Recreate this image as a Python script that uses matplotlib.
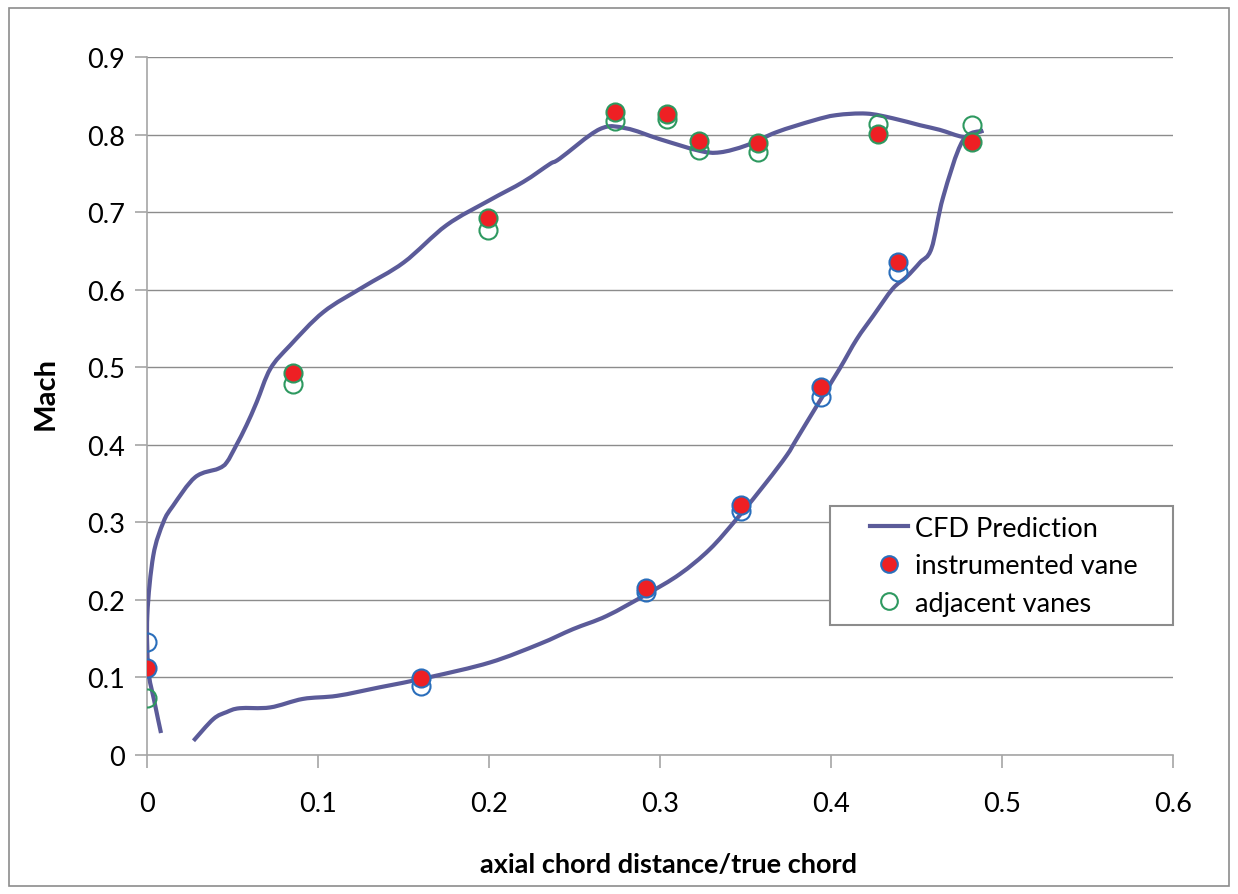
import matplotlib
matplotlib.use("Agg")
import matplotlib.pyplot as plt
from matplotlib.patches import Rectangle, PathPatch
from matplotlib.path import Path
from matplotlib.lines import Line2D

plt.rcParams['font.family'] = ['Lato', 'DejaVu Sans']

# CFD prediction, suction side (leading edge -> trailing edge)
ss_x = [0.008, 0.004, 0.0006, 0.0, 0.0035, 0.0094, 0.015, 0.028, 0.0415, 0.0464, 0.052, 0.058,
        0.064, 0.072, 0.0835, 0.103, 0.126, 0.150, 0.175, 0.200, 0.220, 0.2355, 0.2413,
        0.2647, 0.280, 0.2998, 0.323, 0.335, 0.3505, 0.368, 0.3895, 0.403, 0.4207, 0.436,
        0.452, 0.4636, 0.477, 0.483, 0.489]
ss_y = [0.028, 0.07, 0.11, 0.18, 0.257, 0.30, 0.321, 0.358, 0.369, 0.377, 0.399, 0.425,
        0.455, 0.498, 0.528, 0.571, 0.603, 0.635, 0.683, 0.715, 0.739, 0.762, 0.769,
        0.807, 0.808, 0.794, 0.779, 0.777, 0.786, 0.803, 0.818, 0.825, 0.827, 0.821,
        0.812, 0.806, 0.797, 0.801, 0.805]
# CFD prediction, pressure side (trailing edge -> leading edge)
ps_x = [0.489, 0.477, 0.4655, 0.4587, 0.452, 0.444, 0.436, 0.4246, 0.415, 0.405, 0.393, 0.3798,
        0.374, 0.362, 0.3447, 0.329, 0.3115, 0.292, 0.2687, 0.249, 0.2296, 0.2004, 0.165,
        0.136, 0.111, 0.091, 0.0718, 0.054, 0.0464, 0.0386, 0.027]
ps_y = [0.805, 0.792, 0.719, 0.653, 0.635, 0.616, 0.601, 0.566, 0.536, 0.498, 0.455, 0.407,
        0.386, 0.351, 0.304, 0.265, 0.233, 0.207, 0.179, 0.162, 0.143, 0.119, 0.100,
        0.087, 0.076, 0.072, 0.061, 0.060, 0.055, 0.046, 0.018]

# instrumented vane, suction side / pressure side
inst_ss_x = [0.0855, 0.1994, 0.2735, 0.304, 0.3226, 0.3573, 0.4275, 0.4825]
inst_ss_y = [0.493, 0.692, 0.829, 0.827, 0.792, 0.789, 0.801, 0.790]
inst_ps_x = [0.0, 0.160, 0.292, 0.3475, 0.394, 0.439]
inst_ps_y = [0.112, 0.0985, 0.215, 0.322, 0.474, 0.635]

# adjacent vanes, suction side / pressure side
adj_ss_x = [0.0, 0.0855, 0.1994, 0.2735, 0.304, 0.3226, 0.3573, 0.4275, 0.4825]
adj_ss_y = [0.073, 0.478, 0.677, 0.818, 0.820, 0.780, 0.777, 0.814, 0.812]
adj_ps_x = [0.0, 0.160, 0.292, 0.3475, 0.394, 0.439]
adj_ps_y = [0.145, 0.089, 0.210, 0.315, 0.462, 0.623]

LINE = '#5B5B99'
RED = '#EE2024'
BLUE = '#2A6EBB'
GREEN = '#2E9960'
GRID = '#8C8C8C'
FS = 19.5


def smooth_path(xs, ys):
    """Catmull-Rom smoothing expressed as cubic Bezier path (like Excel smoothed lines)."""
    pts = list(zip(xs, ys))
    n = len(pts)
    verts = [pts[0]]
    codes = [Path.MOVETO]
    for i in range(n - 1):
        p0 = pts[i - 1] if i > 0 else pts[i]
        p1 = pts[i]
        p2 = pts[i + 1]
        p3 = pts[i + 2] if i + 2 < n else pts[i + 1]
        c1 = (p1[0] + (p2[0] - p0[0]) / 6.0, p1[1] + (p2[1] - p0[1]) / 6.0)
        c2 = (p2[0] - (p3[0] - p1[0]) / 6.0, p2[1] - (p3[1] - p1[1]) / 6.0)
        verts += [c1, c2, p2]
        codes += [Path.CURVE4] * 3
    return Path(verts, codes)


fig = plt.figure(figsize=(12.38, 8.95), dpi=100)
ax = fig.add_axes([0.1190, 0.1556, 0.8285, 0.7796])

fig.patches.append(Rectangle((9/1238, 1 - 887/895), (1229-9)/1238, (887-9)/895,
                             transform=fig.transFigure, fill=False, edgecolor='#8C8C8C', lw=1.2))

ax.set_xlim(0, 0.6)
ax.set_ylim(0, 0.9)
ax.set_xticks([0, 0.1, 0.2, 0.3, 0.4, 0.5, 0.6])
ax.set_xticklabels(['0', '0.1', '0.2', '0.3', '0.4', '0.5', '0.6'])
ax.set_yticks([0, 0.1, 0.2, 0.3, 0.4, 0.5, 0.6, 0.7, 0.8, 0.9])
ax.set_yticklabels(['0', '0.1', '0.2', '0.3', '0.4', '0.5', '0.6', '0.7', '0.8', '0.9'])
ax.yaxis.grid(True, color=GRID, lw=1.0)
ax.set_axisbelow(True)
for s in ['top', 'right']:
    ax.spines[s].set_visible(False)
for s in ['left', 'bottom']:
    ax.spines[s].set_color('#A6A6A6')
    ax.spines[s].set_linewidth(1.2)
ax.tick_params(axis='both', length=9, width=1.2, color='#A6A6A6', labelsize=FS)
ax.tick_params(axis='y', pad=7)
ax.tick_params(axis='x', pad=17)

for xs, ys in [(ss_x, ss_y), (ps_x, ps_y)]:
    ax.add_patch(PathPatch(smooth_path(xs, ys), facecolor='none', edgecolor=LINE, lw=3,
                           capstyle='butt', joinstyle='round', zorder=3))

ms = 13
ax.plot(adj_ps_x, adj_ps_y, 'o', ms=ms, mfc='none', mec=BLUE, mew=1.5, zorder=4)
ax.plot(adj_ss_x, adj_ss_y, 'o', ms=ms, mfc='none', mec=GREEN, mew=1.5, zorder=4)
ax.plot(inst_ps_x, inst_ps_y, 'o', ms=ms, mfc=RED, mec=BLUE, mew=1.5, zorder=5)
ax.plot(inst_ss_x, inst_ss_y, 'o', ms=ms, mfc=RED, mec=GREEN, mew=1.5, zorder=5)

fig.text(668/1238, 1 - 873/895, 'axial chord distance/true chord', fontsize=FS,
         fontweight='bold', ha='center', va='baseline')
fig.text(46/1238, 1 - 393/895, 'Mach', fontsize=21, fontweight='bold', rotation=90,
         ha='center', va='center')

# legend frame
ax.add_patch(Rectangle((0.666, 0.1858), 0.3336, 0.171, transform=ax.transAxes,
                       facecolor='white', edgecolor='#8C8C8C', lw=1.5, clip_on=False, zorder=6))
handles = [Line2D([], [], color=LINE, lw=3),
           Line2D([], [], ls='none', marker='o', ms=12, mfc=RED, mec=BLUE, mew=1.5),
           Line2D([], [], ls='none', marker='o', ms=12, mfc='none', mec=GREEN, mew=1.5)]
leg = ax.legend(handles, ['CFD Prediction', 'instrumented vane', 'adjacent vanes'],
                loc='center left', bbox_to_anchor=(0.7044, 0.2708), frameon=False,
                fontsize=FS, borderpad=0, labelspacing=0.46,
                handlelength=1.4, handletextpad=0.26, borderaxespad=0)
leg.set_zorder(7)

fig.savefig('out.png', dpi=100)
